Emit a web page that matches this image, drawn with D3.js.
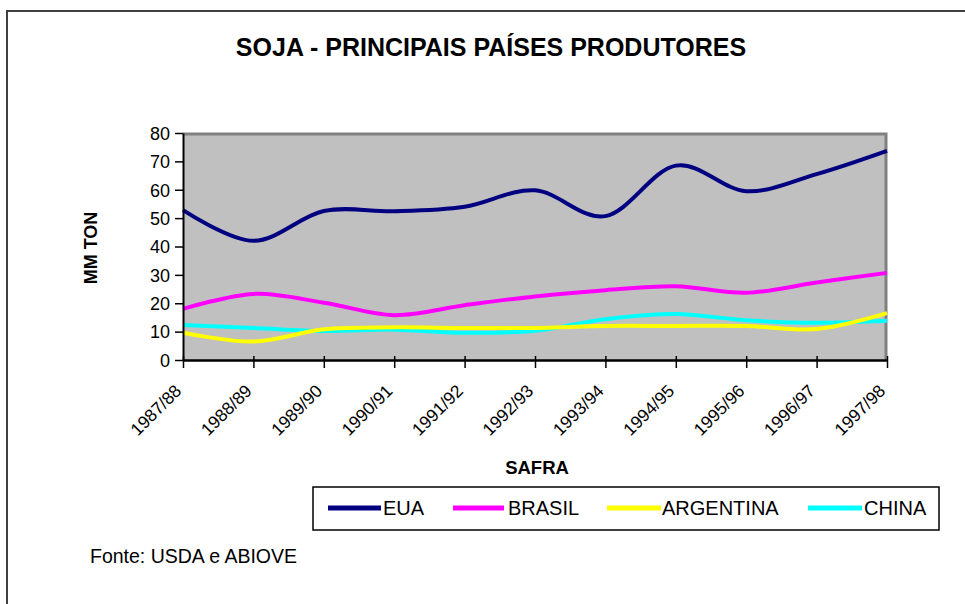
<!DOCTYPE html>
<html><head><meta charset="utf-8">
<script src="https://cdn.jsdelivr.net/npm/d3@7"></script>
<style>
body{margin:0;background:#fff;}
text{font-family:"Liberation Sans",Arial,sans-serif;fill:#000;}
</style></head>
<body>
<svg id="c" width="965" height="604"></svg>
<script>
const categories = ["1987/88","1988/89","1989/90","1990/91","1991/92","1992/93","1993/94","1994/95","1995/96","1996/97","1997/98"];
const eua       = [52.8, 42.0, 52.5, 52.4, 54.0, 59.8, 50.7, 68.5, 59.5, 65.5, 73.7];
const brasil    = [18.0, 23.3, 20.2, 15.8, 19.3, 22.4, 24.6, 26.0, 23.7, 27.3, 30.7];
const argentina = [9.6, 6.5, 10.8, 11.5, 11.3, 11.3, 12.0, 12.0, 12.0, 10.9, 16.5];
const china     = [12.3, 11.3, 10.2, 10.7, 9.6, 10.3, 14.4, 16.2, 14.0, 13.1, 13.8];
const seriesNames = ["EUA","BRASIL","ARGENTINA","CHINA"];
const seriesColors = ["#000080","#FF00FF","#FFFF00","#00FFFF"];
const yTicks = [0,10,20,30,40,50,60,70,80];

const svg = d3.select("#c");
const FF = "Liberation Sans, Arial, sans-serif";
// outer frame
svg.append("line").attr("x1",7).attr("x2",965).attr("y1",11).attr("y2",11).attr("stroke","#404040").attr("stroke-width",2);
svg.append("line").attr("x1",7).attr("x2",7).attr("y1",10).attr("y2",604).attr("stroke","#404040").attr("stroke-width",2);

const L=183, R=887, T=133, B=360;
const x = d3.scalePoint().domain(categories).range([L,R]);
const y = d3.scaleLinear().domain([0,80]).range([B,T]);

// plot background
svg.append("rect").attr("x",L).attr("y",T).attr("width",R-L).attr("height",B-T).attr("fill","#C0C0C0");
svg.append("path").attr("d",`M${L},${T+1}H${R-1}V${B}`).attr("fill","none").attr("stroke","#808080").attr("stroke-width",3);

// title
svg.append("text").attr("x",491).attr("y",56).attr("text-anchor","middle").attr("font-size",25).attr("font-weight","bold").text("SOJA - PRINCIPAIS PAÍSES PRODUTORES");

// lines
const series=[eua,brasil,argentina,china];
const line = d3.line().x((d,i)=>x(categories[i])).y(d=>y(d)).curve(d3.curveCardinal.tension(0));
svg.append("clipPath").attr("id","pc").append("rect").attr("x",L-3).attr("y",T-3).attr("width",R-L+6).attr("height",B-T+3);
series.slice().reverse().forEach((s,k)=>{
  const i = series.length-1-k;
  svg.append("path").datum(s).attr("d",line).attr("fill","none").attr("stroke",seriesColors[i]).attr("stroke-width",4).attr("clip-path","url(#pc)");
});

// axes
const yAxis = d3.axisLeft(y).tickValues(yTicks).tickSize(8).tickSizeOuter(0).tickPadding(5);
const gy = svg.append("g").attr("transform",`translate(${L},0)`).call(yAxis);
gy.select(".domain").attr("stroke","#000").attr("stroke-width",2);
gy.selectAll(".tick line").attr("stroke","#000").attr("stroke-width",1.5);
gy.selectAll("text").attr("font-size",18).attr("font-family",FF).style("fill","#000").attr("dy","0.35em");

const xAxis = d3.axisBottom(x).tickSize(8).tickSizeOuter(0);
const gx = svg.append("g").attr("transform",`translate(0,${B})`).call(xAxis);
gx.select(".domain").attr("stroke","#000").attr("stroke-width",2.5);
gx.selectAll(".tick line").attr("stroke","#000").attr("stroke-width",1.5).attr("y1",-4);
gx.selectAll("text").attr("font-size",17.5).attr("font-family",FF).style("fill","#000")
  .attr("text-anchor","end").attr("dy",0).attr("y",0)
  .attr("transform","translate(-1,32) rotate(-45)");

// axis titles
svg.append("text").attr("transform","translate(97,248) rotate(-90)").attr("text-anchor","middle").attr("font-size",18).attr("font-weight","bold").text("MM TON");
svg.append("text").attr("x",537).attr("y",474).attr("text-anchor","middle").attr("font-size",18.5).attr("font-weight","bold").text("SAFRA");

// legend
svg.append("rect").attr("x",313).attr("y",487).attr("width",626).attr("height",43).attr("fill","#fff").attr("stroke","#000").attr("stroke-width",1.5);
const legLine=[[328,381],[453,504],[607,661],[808,862]];
const legText=[383,508,662,864];
seriesNames.forEach((n,i)=>{
  svg.append("line").attr("x1",legLine[i][0]).attr("x2",legLine[i][1]).attr("y1",508).attr("y2",508).attr("stroke",seriesColors[i]).attr("stroke-width",5);
  svg.append("text").attr("x",legText[i]).attr("y",515).attr("font-size",20).text(n);
});

// source
svg.append("text").attr("x",90).attr("y",563).attr("font-size",19.5).text("Fonte: USDA e ABIOVE");
</script>
</body></html>
